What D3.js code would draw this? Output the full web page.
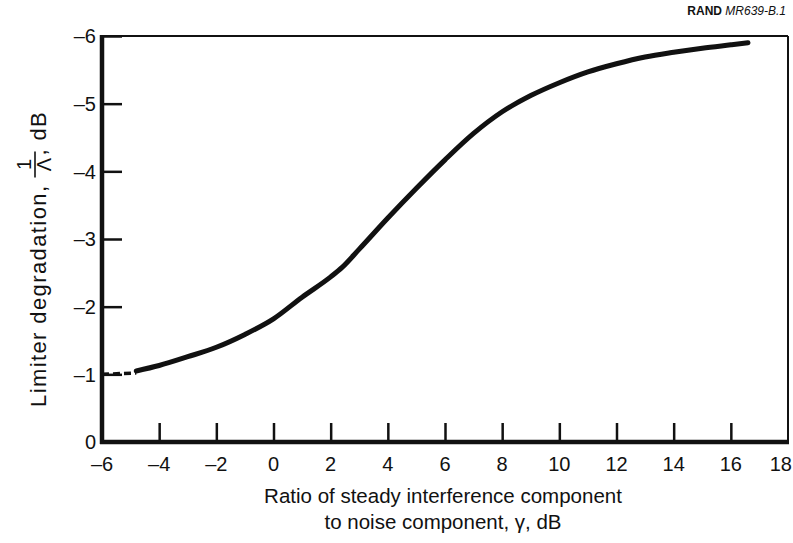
<!DOCTYPE html>
<html>
<head>
<meta charset="utf-8">
<script src="https://cdn.jsdelivr.net/npm/d3@7"></script>
<style>
  body { margin: 0; background: #fff; }
  svg text { font-family: "Liberation Sans", Arial, Helvetica, sans-serif; fill: #111; }
</style>
</head>
<body>
<div id="chart"></div>
<script>
// curve: ratio gamma (dB) vs limiter degradation (dB)
let gammaDb = [-4.8, -4, -3, -2, -1, 0, 1, 2, 2.4, 3, 4, 5, 6, 7, 8, 9, 10, 11, 12, 13, 14, 15, 16, 16.6];
let degradDb = [-1.05, -1.13, -1.26, -1.40, -1.59, -1.82, -2.14, -2.44, -2.58, -2.85, -3.31, -3.75, -4.17, -4.56, -4.88, -5.12, -5.31, -5.47, -5.59, -5.69, -5.76, -5.82, -5.87, -5.9];
// dashed extension at the low end
let dashGamma = [-6, -4.8];
let dashDegrad = [-1.0, -1.02];

let xTicks = [-6, -4, -2, 0, 2, 4, 6, 8, 10, 12, 14, 16, 18];
let yTicks = [0, -1, -2, -3, -4, -5, -6];

let width = 793, height = 543;

let svg = d3.select("#chart").append("svg")
    .attr("width", width)
    .attr("height", height);

let x = d3.scaleLinear().domain([-6, 18]).range([102, 788]);
let y = d3.scaleLinear().domain([0, -6]).range([442, 36]);

let fmt = d => d < 0 ? "\u2013" + Math.abs(d) : "" + d;

// frame: thin top and right
svg.append("line")
    .attr("x1", x(-6)).attr("x2", x(18))
    .attr("y1", y(-6)).attr("y2", y(-6))
    .attr("stroke", "#111").attr("stroke-width", 2);
svg.append("line")
    .attr("x1", x(18)).attr("x2", x(18))
    .attr("y1", y(-6)).attr("y2", y(0))
    .attr("stroke", "#111").attr("stroke-width", 2);

// y axis (ticks pointing inward)
let yAxis = d3.axisRight(y)
    .tickValues(yTicks)
    .tickSize(20)
    .tickFormat("");
let yg = svg.append("g")
    .attr("transform", "translate(" + x(-6) + ",0)")
    .call(yAxis);
yg.select(".domain").remove();
yg.selectAll(".tick line").attr("stroke", "#111").attr("stroke-width", 2.5);

yTicks.forEach(function(t) {
    svg.append("text")
        .attr("x", 96)
        .attr("y", y(t))
        .attr("dy", "0.36em")
        .attr("text-anchor", "end")
        .style("font-size", "20px")
        .text(fmt(t));
});

// x axis (ticks pointing up)
let xAxis = d3.axisTop(x)
    .tickValues(xTicks.filter(t => t > -6 && t < 18))
    .tickSize(19)
    .tickFormat("");
let xg = svg.append("g")
    .attr("transform", "translate(0," + y(0) + ")")
    .call(xAxis);
xg.select(".domain").remove();
xg.selectAll(".tick line").attr("stroke", "#111").attr("stroke-width", 2.5);

xTicks.forEach(function(t) {
    let last = t === 18;
    svg.append("text")
        .attr("x", last ? 792 : x(t))
        .attr("y", 471)
        .attr("text-anchor", last ? "end" : "middle")
        .style("font-size", "20px")
        .text(fmt(t));
});

// thick left and bottom axis lines
svg.append("line")
    .attr("x1", x(-6)).attr("x2", x(-6))
    .attr("y1", y(-6) - 1).attr("y2", y(0) + 2)
    .attr("stroke", "#111").attr("stroke-width", 4.5);
svg.append("line")
    .attr("x1", x(-6) - 2).attr("x2", x(18) + 1)
    .attr("y1", y(0)).attr("y2", y(0))
    .attr("stroke", "#111").attr("stroke-width", 4.5);

// curve
let line = d3.line()
    .x(d => x(d[0]))
    .y(d => y(d[1]))
    .curve(d3.curveMonotoneX);

svg.append("path")
    .attr("d", line(d3.zip(gammaDb, degradDb)))
    .attr("fill", "none")
    .attr("stroke", "#111")
    .attr("stroke-width", 5)
    .attr("stroke-linecap", "round");

svg.append("path")
    .attr("d", line(d3.zip(dashGamma, dashDegrad)))
    .attr("fill", "none")
    .attr("stroke", "#111")
    .attr("stroke-width", 3.5)
    .attr("stroke-dasharray", "7,4");

// x axis title
svg.append("text")
    .attr("x", 443).attr("y", 503)
    .attr("text-anchor", "middle")
    .style("font-size", "20.5px")
    .text("Ratio of steady interference component");
svg.append("text")
    .attr("x", 443).attr("y", 529)
    .attr("text-anchor", "middle")
    .style("font-size", "20.5px")
    .text("to noise component, \u03b3, dB");

// y axis title with 1/Λ fraction
let yt = svg.append("g")
    .attr("transform", "translate(46,407) rotate(-90)");
let t1 = yt.append("text")
    .attr("x", 0).attr("y", 0)
    .style("font-size", "22px")
    .style("letter-spacing", "1.4px")
    .text("Limiter degradation,");
let w1 = t1.node().getComputedTextLength();
let fx = w1 + 20;
yt.append("text")
    .attr("x", fx).attr("y", -15)
    .attr("text-anchor", "middle")
    .style("font-size", "20px")
    .text("1");
yt.append("line")
    .attr("x1", fx - 13).attr("x2", fx + 13)
    .attr("y1", -11).attr("y2", -11)
    .attr("stroke", "#111").attr("stroke-width", 1.6);
yt.append("text")
    .attr("x", fx).attr("y", 5)
    .attr("text-anchor", "middle")
    .style("font-size", "20px")
    .text("\u039b");
yt.append("text")
    .attr("x", fx + 9).attr("y", 0)
    .style("font-size", "22px")
    .style("letter-spacing", "1.4px")
    .text(",  dB");

// figure code
let rt = svg.append("text")
    .attr("x", 786).attr("y", 15)
    .attr("text-anchor", "end")
    .style("font-size", "12px");
rt.append("tspan").style("font-weight", "bold").text("RAND ");
rt.append("tspan").style("font-style", "italic").text("MR639-B.1");
</script>
</body>
</html>
